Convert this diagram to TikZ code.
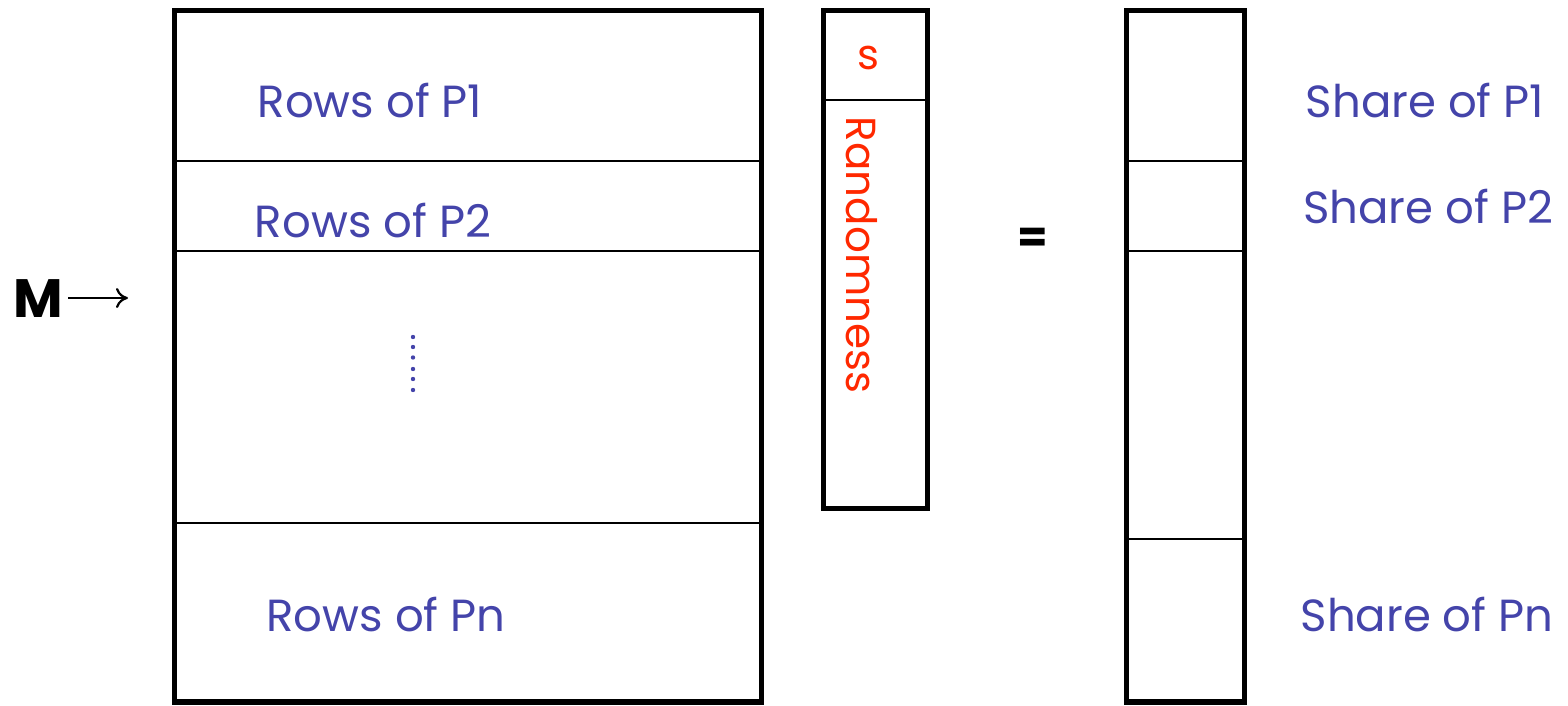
\documentclass[tikz,border=0pt]{standalone}
\usepackage{fontspec}
\setmainfont{Poppins}
\usetikzlibrary{arrows.meta}
\definecolor{txtblue}{RGB}{68,68,170}
\definecolor{txtred}{RGB}{255,40,0}
\begin{document}
\begin{tikzpicture}[x=0.5pt,y=-0.5pt,
  thick box/.style={draw=black,line width=2.6pt},
  thin line/.style={draw=black,line width=0.8pt},
  bluetext/.style={text=txtblue,font=\fontsize{22.5}{26}\selectfont,inner sep=0pt},
  redtext/.style={text=txtred,font=\fontsize{21}{25}\selectfont,inner sep=0pt},
  dotst/.style={fill=txtblue,draw=none}]
\useasboundingbox (0,0) rectangle (1568,706);
% big matrix
\draw[thin line] (174.5,161) -- (761.5,161);
\draw[thin line] (174.5,251) -- (761.5,251);
\draw[thin line] (174.5,523) -- (761.5,523);
\draw[thick box] (174.5,10.5) rectangle (761.5,702);
% randomness vector
\draw[thin line] (823.5,100) -- (927.5,100);
\draw[thick box] (823.5,10.5) rectangle (927.5,508.5);
% result vector
\draw[thin line] (1126.5,161) -- (1244.5,161);
\draw[thin line] (1126.5,251) -- (1244.5,251);
\draw[thin line] (1126.5,539) -- (1244.5,539);
\draw[thick box] (1126.5,10.5) rectangle (1244.5,702);
% texts
\node[bluetext] (r1) at (370,101) {Rows of P1};
\node[bluetext] (r2) at (373,221) {Rows of P2};
\node[bluetext] (rn) at (386,615) {Rows of Pn};
\node[bluetext] (s1) at (1425,101) {Share of P1};
\node[bluetext] (s2) at (1428,207) {Share of P2};
\node[bluetext] (sn) at (1427,615) {Share of Pn};
\node[redtext] (s) at (868,58) {s};
\node[redtext,rotate=-90] (rand) at (862,255) {Randomness};
% dots
\foreach \yy in {337,347,357.5,369,379,390} \fill[dotst] (413,\yy) circle (2.2);
% M arrow
\node[font=\fontsize{27}{30}\selectfont\bfseries,inner sep=0pt] (M) at (38,299) {M};
\coordinate (arrowend) at (128,298);
\draw[line width=1.1pt,-{To[length=6pt,width=10pt]}] (M.east)++(5,-1) -- (arrowend);
\node[font=\fontsize{22}{26}\selectfont\mdseries,inner sep=0pt] (eq) at (1033,240) {\textbf{=}};
\end{tikzpicture}
\end{document}
